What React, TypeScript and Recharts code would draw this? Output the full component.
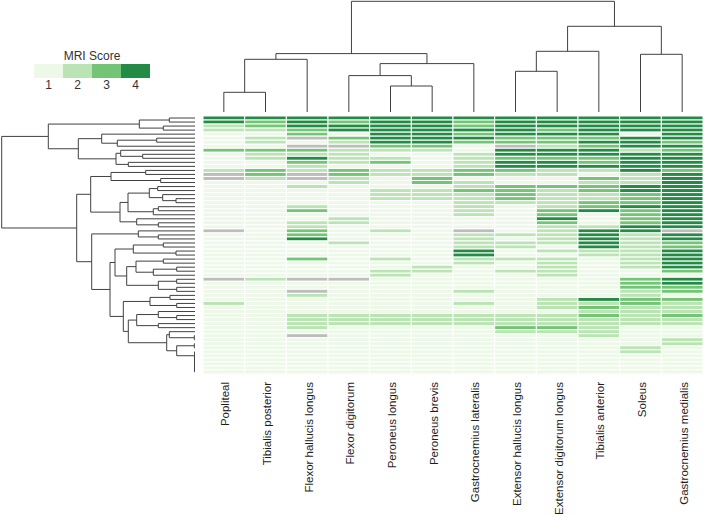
import React from 'react';
import { BarChart, Bar, Cell, XAxis, YAxis, LineChart, Line } from 'recharts';

const FONT = '"Liberation Sans", Arial, Helvetica, sans-serif';

// Categories (columns, left to right)
const muscles = [
  'Popliteal',
  'Tibialis posterior',
  'Flexor hallucis longus',
  'Flexor digitorum',
  'Peroneus longus',
  'Peroneus brevis',
  'Gastrocnemius lateralis',
  'Extensor hallucis longus',
  'Extensor digitorum longus',
  'Tibialis anterior',
  'Soleus',
  'Gastrocnemius medialis',
];

// Legend
const scoreLabels = ['1', '2', '3', '4'];
const scoreColors = ['#edf8e9', '#bae4b3', '#74c476', '#238b45'];
const missingColor = '#bdbdbd';

// MRI scores per muscle, one value per patient row (top to bottom); 0 = missing
const popliteal = [4,4,2,2,1,1,1,1,3,1, 1,1,1,2,0,0,1,1,1,1, 1,1,1,1,1,1,1,1,0,1, 1,1,1,1,1,1,1,1,1,1, 0,1,1,1,1,1,2,1,1,1, 1,1,1,1,1,1,1,1,1,1, 1,1,1,1];
const tibialisPosterior = [4,3,3,2,1,2,2,1,3,2, 2,1,1,3,3,2,1,1,1,1, 1,1,1,1,1,1,1,1,1,1, 1,1,1,1,1,1,1,1,1,1, 2,1,1,1,1,1,1,1,1,1, 1,1,1,1,1,1,1,1,1,1, 1,1,1,1];
const flexorHallucisLongus = [4,4,4,3,3,0,1,0,3,2, 4,3,2,2,0,0,1,2,1,1, 1,1,2,3,1,1,2,2,3,3, 4,1,1,1,1,3,1,1,1,1, 0,1,1,0,2,1,1,1,1,2, 2,2,2,1,0,1,1,1,1,1, 1,1,1,1];
const flexorDigitorum = [4,3,4,4,1,3,2,0,2,2, 2,2,1,3,3,2,2,1,1,1, 1,1,1,1,1,2,2,1,1,1, 1,2,1,1,1,1,1,1,1,1, 0,1,1,1,1,1,1,1,1,2, 2,2,1,1,1,1,1,1,1,1, 1,1,1,1];
const peroneusLongus = [4,4,4,4,4,4,4,3,2,1, 2,3,1,2,2,1,1,1,2,2, 2,1,1,1,1,1,1,1,2,1, 1,1,1,1,1,2,1,1,2,2, 1,1,1,1,1,1,1,1,1,2, 2,2,1,1,1,1,1,1,1,1, 1,1,1,1];
const peroneusBrevis = [4,4,4,4,4,4,4,3,2,1, 1,1,1,2,2,3,3,1,2,2, 2,1,1,1,1,1,1,1,1,1, 1,1,1,1,1,1,1,2,2,1, 1,1,1,1,1,1,1,1,1,2, 2,2,1,1,1,1,1,1,1,1, 1,1,1,1];
const gastrocnemiusLateralis = [4,3,3,4,3,4,3,1,1,2, 2,2,2,3,3,1,2,2,3,2, 2,2,2,2,2,1,1,1,0,2, 2,2,2,4,4,2,2,1,1,1, 1,1,1,2,1,1,2,1,1,2, 2,2,1,1,1,1,1,1,1,1, 1,1,1,1];
const extensorHallucisLongus = [4,4,4,4,4,3,3,0,4,4, 3,4,4,3,2,1,1,3,3,3, 3,2,1,1,1,1,1,1,1,2, 1,2,2,1,1,2,1,1,2,1, 1,1,1,1,1,1,1,1,1,2, 2,2,3,2,1,1,1,1,1,1, 1,1,1,1];
const extensorDigitorumLongus = [4,4,4,3,4,3,3,2,4,4, 3,4,4,2,2,1,1,3,2,2, 2,2,2,3,3,4,3,2,2,2, 2,2,1,2,1,2,2,2,2,2, 1,1,1,1,1,2,2,2,1,2, 2,2,3,2,1,1,1,1,1,1, 1,1,1,1];
const tibialisAnterior = [4,4,4,4,4,3,4,3,4,4, 3,3,4,2,1,3,2,3,3,2, 2,3,3,4,1,1,1,2,4,4, 4,4,4,2,2,1,1,1,1,1, 1,1,1,1,1,4,2,3,2,3, 2,2,2,2,2,1,1,1,1,1, 1,1,1,1];
const soleus = [4,4,4,4,1,4,4,4,2,4, 4,4,4,4,2,2,2,4,4,3, 3,3,4,3,3,3,3,4,4,2, 2,2,2,2,2,2,2,2,1,1, 3,3,3,2,2,3,3,2,2,2, 2,2,1,1,1,1,1,2,2,1, 1,1,1,1];
const gastrocnemiusMedialis = [4,4,4,4,4,4,3,4,3,4, 4,4,4,3,4,4,4,4,4,4, 4,4,4,4,4,4,4,4,0,4, 4,3,3,4,4,4,4,4,3,1, 4,4,3,3,1,3,2,2,2,3, 2,2,1,1,1,2,2,1,1,1, 1,1,1,1];

const scoreColumns = [
  popliteal, tibialisPosterior, flexorHallucisLongus, flexorDigitorum,
  peroneusLongus, peroneusBrevis, gastrocnemiusLateralis, extensorHallucisLongus,
  extensorDigitorumLongus, tibialisAnterior, soleus, gastrocnemiusMedialis,
];

// Dendrograms: [mergeHeight, left, right]; numbers are leaf indices
const colTree = [110.7,
  [58.4, [52.7, [19.7, 0, 1], 2], [48.4, [36.4, 3, [26, 4, 5]], 6]],
  [85.7, [60.7, [40.7, 7, 8], 9], [57.7, 10, 11]],
];

const rowTree = [193.3,
  [146.7,
    [55.7, [25.7, 0, 1], [31.7, 2, 3]],
    [116.7,
      [93.3, 4, [77.7, [38.3, 5, 6], 7]],
      [79, [74.3, 8, [52.3, 9, 10]], [66.7, 11, 12]],
    ],
  ],
  [118.3,
    [104.3,
      [84, [49.3, 13, 14], [34.3, 15, 16]],
      [75,
        [67, [45.7, [37.3, 17, 18], [32.3, 19, [19, 20, 21]]], [41.7, [36.7, 22, 23], 24]],
        [58.3, 25, [36.7, 26, 27]],
      ],
    ],
    [103.3,
      [56.7, 28, [36.7, 29, 30]],
      [85,
        [80,
          [61.7, [31.7, 31, 32], [19, 33, 34]],
          [68.3, [59, [31.7, 35, 36], [41.7, [18.3, 37, 38], 39]], [36.7, [18.3, 40, 41], [18.3, 42, 43]]],
        ],
        [71.7,
          [45, [25, 44, 45], [18.3, 46, 47]],
          [66.7,
            [58.3, [36.7, 48, [18.3, 49, 50]], [36.7, 51, 52]],
            [28.3, [25.7, 53, [0.7, 54, 55]], [18.3, [0.7, 56, 57], [0.4, 58, [0.4, 59, [0.4, 60, [0.4, 61, [0.4, 62, 63]]]]]]],
          ],
        ],
      ],
    ],
  ],
];

type Pt = { p: number; h: number | null };

function walk(node: any, out: Pt[]): { p: number; h: number } {
  if (typeof node === 'number') return { p: node + 0.5, h: 0 };
  const [h, a, b] = node;
  const A = walk(a, out);
  const B = walk(b, out);
  out.push({ p: A.p, h: A.h }, { p: A.p, h }, { p: B.p, h }, { p: B.p, h: B.h }, { p: B.p, h: null });
  return { p: (A.p + B.p) / 2, h };
}

const colPts: Pt[] = [];
walk(colTree, colPts);
const colDendroData = colPts.map((d) => ({ x: d.p, y: d.h }));

const rowPts: Pt[] = [];
walk(rowTree, rowPts);
const rowDendroData = rowPts.map((d) => ({ x: d.h === null ? 0 : d.h, y: d.h === null ? null : d.p }));

const nRows = popliteal.length;
const colKeys = muscles.map((_, j) => `c${j}`);
const heatRows = Array.from({ length: nRows }, (_, i) => {
  const r: any = { row: `p${i}` };
  colKeys.forEach((k) => { r[k] = 1; });
  return r;
});

const legendRow = [{ name: 'score', s0: 1, s1: 1, s2: 1, s3: 1 }];

const colorFor = (v: number) => (v === 0 ? missingColor : scoreColors[v - 1]);

function ColumnTick(props: any) {
  const { x, y, payload } = props;
  const idx = Math.floor(payload.value);
  const ax = x + 5.5;
  return (
    <text x={ax} y={y} transform={`rotate(-90 ${ax} ${y})`} textAnchor="end" fontSize={11.5} fontFamily={FONT} fill="#1e1e1e">
      {muscles[idx]}
    </text>
  );
}

function LegendTick(props: any) {
  const { x, y, payload } = props;
  return (
    <text x={x} y={y} dy={8.5} textAnchor="middle" fontSize={12} fontFamily={FONT} fill="#333333">
      {scoreLabels[Math.floor(payload.value)]}
    </text>
  );
}

const LINE = '#404040';

export default function App() {
  return (
    <div style={{ position: 'absolute', left: 0, top: 0, width: 704, height: 516, background: '#fff', overflow: 'hidden', fontFamily: FONT }}>
      {/* column dendrogram */}
      <div style={{ position: 'absolute', left: 203, top: 0 }}>
        <LineChart width={500} height={112} data={colDendroData} margin={{ top: 0, right: 0, bottom: 0, left: 0 }}>
          <XAxis type="number" dataKey="x" domain={[0, 12]} hide />
          <YAxis type="number" domain={[0, 112]} hide />
          <Line dataKey="y" stroke={LINE} strokeWidth={1} dot={false} activeDot={false} isAnimationActive={false} connectNulls={false} />
        </LineChart>
      </div>

      {/* row dendrogram */}
      <div style={{ position: 'absolute', left: 0, top: 116 }}>
        <LineChart width={195} height={258} data={rowDendroData} margin={{ top: 0, right: 0, bottom: 0, left: 0 }}>
          <XAxis type="number" dataKey="x" domain={[0, 195]} reversed hide />
          <YAxis type="number" domain={[0, 64]} reversed hide />
          <Line dataKey="y" stroke={LINE} strokeWidth={1} dot={false} activeDot={false} isAnimationActive={false} connectNulls={false} />
        </LineChart>
      </div>

      {/* heatmap */}
      <div style={{ position: 'absolute', left: 203, top: 116 }}>
        <BarChart width={500} height={400} data={heatRows} layout="vertical" barCategoryGap={0} barGap={0} margin={{ top: 0, right: 0, bottom: 0, left: 0 }}>
          <XAxis
            type="number"
            domain={[0, 12]}
            ticks={muscles.map((_, i) => i + 0.5)}
            interval={0}
            height={142}
            axisLine={false}
            tickLine={false}
            tickSize={0}
            tickMargin={8}
            tick={<ColumnTick />}
          />
          <YAxis type="category" dataKey="row" hide />
          {colKeys.map((k, j) => (
            <Bar key={k} dataKey={k} stackId="m" isAnimationActive={false}>
              {scoreColumns[j].map((v, i) => (
                <Cell key={i} fill={colorFor(v)} stroke="#ffffff" strokeWidth={1} />
              ))}
            </Bar>
          ))}
        </BarChart>
      </div>

      {/* legend */}
      <div style={{ position: 'absolute', left: 34, top: 49, width: 116, textAlign: 'center', fontSize: 12, color: '#333', fontFamily: FONT }}>
        MRI Score
      </div>
      <div style={{ position: 'absolute', left: 34, top: 64 }}>
        <BarChart width={116} height={34} data={legendRow} layout="vertical" barCategoryGap={0} margin={{ top: 0, right: 0, bottom: 0, left: 0 }}>
          <XAxis
            type="number"
            domain={[0, 4]}
            ticks={[0.5, 1.5, 2.5, 3.5]}
            interval={0}
            height={20}
            axisLine={false}
            tickLine={false}
            tickSize={0}
            tickMargin={2}
            tick={<LegendTick />}
          />
          <YAxis type="category" dataKey="name" hide />
          {scoreColors.map((c, i) => (
            <Bar key={i} dataKey={`s${i}`} stackId="l" fill={c} isAnimationActive={false} />
          ))}
        </BarChart>
      </div>
    </div>
  );
}
